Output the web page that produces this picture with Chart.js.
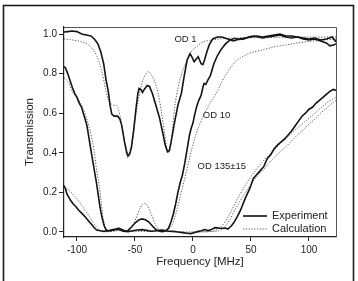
<!DOCTYPE html>
<html><head><meta charset="utf-8">
<script src="https://cdn.jsdelivr.net/npm/chart.js@4/dist/chart.umd.min.js"></script>
<style>html,body{margin:0;padding:0;background:#fff;}canvas{display:block;}</style>
</head><body>
<canvas id="c" width="358" height="281"></canvas>
<script>
// ---- data (frequency in MHz, transmission) ----
const xTicks = [-100, -50, 0, 50, 100];
const yTicks = [0, 0.2, 0.4, 0.6, 0.8, 1.0];

const od1ExpF = [-111.2,-108,-104,-100,-96,-92,-88,-85,-82,-79.5,-77,-75,-73,-71.5,-70,-68,-65,-63,-61.5,-59,-57,-56,-54.5,-53,-51,-49,-47.5,-46.5,-45,-43.5,-42,-39.5,-37.5,-35,-32,-29,-26,-24,-22,-20.5,-19,-16,-13,-10,-7.5,-5,-2.5,-1,1,3,4.5,7,8.5,10,12,14,17,21,25,30,35,40,45,50,55,60,65,70,75,80,85,90,95,100,105,110,115,120,123.3];
const od1ExpT = [1.01,1.012,1.015,1.012,1.0,0.995,0.99,0.975,0.95,0.91,0.85,0.77,0.71,0.64,0.595,0.585,0.585,0.57,0.54,0.455,0.40,0.385,0.395,0.43,0.52,0.63,0.70,0.725,0.72,0.705,0.72,0.74,0.735,0.70,0.64,0.58,0.50,0.44,0.405,0.41,0.45,0.55,0.64,0.70,0.79,0.87,0.90,0.885,0.86,0.875,0.885,0.85,0.845,0.87,0.91,0.945,0.975,0.985,0.985,0.975,0.965,0.975,0.98,0.985,0.99,0.985,0.99,0.995,1.0,0.99,0.99,0.985,0.98,0.975,0.98,0.97,0.975,0.985,0.96];

const od1CalcF = [-111.2,-104,-96,-90,-86,-83,-81,-79,-77,-75,-73,-70,-67.5,-66,-64,-62,-60,-58,-56.5,-55,-53,-51,-49,-47,-44,-41,-38.5,-36,-33,-30,-27,-25,-23,-21.5,-20,-18,-16,-12,-8.5,-5,-1.7,3,7,12,18,30,60,90,123.3];
const od1CalcT = [0.975,0.97,0.96,0.945,0.92,0.89,0.86,0.82,0.77,0.71,0.67,0.645,0.64,0.64,0.615,0.56,0.49,0.41,0.375,0.385,0.44,0.52,0.60,0.67,0.75,0.795,0.81,0.795,0.76,0.70,0.60,0.52,0.44,0.40,0.41,0.50,0.62,0.75,0.82,0.87,0.91,0.935,0.955,0.965,0.972,0.978,0.982,0.984,0.985];

const od10ExpF = [-111.2,-110,-108,-106,-104,-102,-100,-98,-96,-93.5,-91.5,-89,-87,-85,-83,-81.5,-80,-78.5,-76.5,-75,-73,-70,-67,-64,-61,-58,-56,-53,-50,-47,-44,-41,-38,-35,-32,-29,-26,-23,-21,-19,-17,-15,-13,-11,-9,-7,-5,-3,-1.5,0,1,3,5,7,8.5,9.5,11,13,15,18,21,24,28,32,36,40,44,48,52,56,60,65,70,75,80,85,90,95,100,105,110,115,118,121,123.3];
const od10ExpT = [0.835,0.83,0.80,0.765,0.73,0.70,0.68,0.65,0.63,0.58,0.54,0.45,0.38,0.31,0.24,0.18,0.12,0.075,0.03,0.012,0.005,0.008,0.012,0.02,0.012,0.004,0.008,0.025,0.045,0.06,0.066,0.062,0.05,0.03,0.012,0.004,0.002,0.008,0.02,0.05,0.09,0.14,0.20,0.25,0.29,0.35,0.42,0.49,0.525,0.55,0.58,0.63,0.665,0.69,0.73,0.75,0.745,0.77,0.79,0.85,0.89,0.92,0.95,0.97,0.978,0.972,0.975,0.985,0.99,0.985,0.98,0.985,0.99,0.995,0.985,0.98,0.985,0.975,0.97,0.975,0.965,0.955,0.94,0.945,0.95];

const od10CalcF = [-111.2,-108,-104,-100,-97.5,-94,-90,-87.5,-85.5,-83,-81,-79.5,-78,-76,-74,-71,-66,-62,-58,-55,-52,-49,-46,-43,-41,-39,-36,-33,-30,-27,-23,-20,-17,-14,-11,-8,-5,-1,3,7,11,15,20,25,30,35,41,50,60,70,80,90,100,110,123.3];
const od10CalcT = [0.78,0.76,0.71,0.675,0.655,0.61,0.54,0.48,0.42,0.31,0.24,0.17,0.09,0.03,0.008,0.002,0.006,0.012,0.006,0.01,0.03,0.07,0.115,0.142,0.145,0.13,0.09,0.045,0.015,0.003,0.005,0.02,0.05,0.11,0.18,0.25,0.32,0.42,0.50,0.56,0.61,0.655,0.70,0.76,0.81,0.85,0.88,0.905,0.92,0.935,0.945,0.955,0.962,0.968,0.975];

const od135ExpF = [-111.2,-110,-108.5,-107,-105,-103,-100.5,-98.5,-96,-93,-90,-87,-85,-83,-80,-77,-73,-69,-66,-63,-60,-56,-52,-48,-44,-40,-36,-32,-28,-25,-21,-17,-13,-9,-5,-2,1,4,7,10,13,16,19,22,25,28,30,33,35,38,41,45,49,52,55,58,61,64,67,70,73,76,79,82,85,88,91,94,97,100,103,106,109,112,115,118,121,123.3];
const od135ExpT = [0.235,0.22,0.19,0.175,0.155,0.14,0.125,0.11,0.095,0.077,0.055,0.035,0.02,0.01,0.006,0.003,0.006,0.012,0.015,0.01,0.004,0.002,0.006,0.01,0.012,0.008,0.004,0.006,0.01,0.008,0.004,0.003,0.0,-0.003,-0.006,-0.008,-0.004,0.002,0.006,0.012,0.008,0.012,0.022,0.02,0.018,0.02,0.015,0.03,0.045,0.075,0.11,0.17,0.22,0.27,0.29,0.31,0.33,0.37,0.39,0.42,0.44,0.455,0.47,0.49,0.51,0.535,0.56,0.585,0.60,0.62,0.63,0.65,0.665,0.68,0.695,0.71,0.72,0.715];

const od135CalcAF = [-111.2,-108,-105,-102,-99,-96,-93,-90,-87,-84,-81,-78,-74,-68,-64,-60,-50,-40,-30,-20,-10,0,10,15,20,24,28,32,36,40,45,50,55,60,65,70,75,80,85,90,95,100,105,110,115,120,123.3];
const od135CalcAT = [0.225,0.215,0.20,0.18,0.16,0.135,0.11,0.085,0.055,0.03,0.012,0.004,0.001,0.008,0.01,0.004,0.002,0.003,0.002,0.002,0.001,0.0,0.002,0.003,0.01,0.025,0.055,0.095,0.14,0.185,0.235,0.28,0.32,0.355,0.385,0.415,0.445,0.47,0.50,0.525,0.55,0.575,0.60,0.625,0.65,0.67,0.68];

const od135CalcBF = [0,10,17,22,27,31,35,39,44,50,55,60,65,70,75,80,85,90,95,100,105,110,115,120,123.3];
const od135CalcBT = [0.0,0.001,0.002,0.005,0.025,0.055,0.10,0.14,0.19,0.24,0.28,0.31,0.345,0.375,0.405,0.43,0.46,0.49,0.515,0.545,0.57,0.60,0.625,0.65,0.665];

const seriesNames = ['OD 1 experiment','OD 1 calculation','OD 10 experiment','OD 10 calculation','OD 135 experiment','OD 135-15 calculation','OD 135+15 calculation'];
const curveLabels = ['OD 1', 'OD 10', 'OD 135\u00B115'];
const legendLabels = ['Experiment', 'Calculation'];

// ---- build ----
const pts = (f, t) => f.map((v, i) => ({x: v, y: t[i]}));
const EXP_COLOR = '#141414', CALC_COLOR = '#555';
const CALC_DASH = [1.2, 1.6];
const expStyle = {borderColor: EXP_COLOR, borderWidth: 1.6, pointRadius: 0, tension: 0, fill: false, showLine: true};
const calcStyle = {borderColor: CALC_COLOR, borderWidth: 1, borderDash: CALC_DASH, pointRadius: 0, cubicInterpolationMode: 'monotone', fill: false, showLine: true};

const datasets = [
  Object.assign({label: seriesNames[0], data: pts(od1ExpF, od1ExpT)}, expStyle),
  Object.assign({label: seriesNames[1], data: pts(od1CalcF, od1CalcT)}, calcStyle),
  Object.assign({label: seriesNames[2], data: pts(od10ExpF, od10ExpT)}, expStyle),
  Object.assign({label: seriesNames[3], data: pts(od10CalcF, od10CalcT)}, calcStyle),
  Object.assign({label: seriesNames[4], data: pts(od135ExpF, od135ExpT)}, expStyle),
  Object.assign({label: seriesNames[5], data: pts(od135CalcAF, od135CalcAT)}, calcStyle),
  Object.assign({label: seriesNames[6], data: pts(od135CalcBF, od135CalcBT)}, calcStyle),
];

const FONT = "'Liberation Sans', Arial, Helvetica, sans-serif";
const INK = '#222';

const labelPos = [{f: -16, t: 0.975}, {f: 8.5, t: 0.59}, {f: 4, t: 0.33}];

const deco = {
  id: 'deco',
  afterDraw(chart) {
    const {ctx, chartArea: a, scales} = chart;
    ctx.save();
    // plot box (top + right)
    ctx.strokeStyle = '#555'; ctx.lineWidth = 1;
    ctx.beginPath();
    ctx.moveTo(a.left, a.top + 0.5); ctx.lineTo(a.right + 0.5, a.top + 0.5); ctx.lineTo(a.right + 0.5, a.bottom);
    ctx.stroke();
    // outer frame
    ctx.strokeStyle = '#1c1c1c'; ctx.lineWidth = 1.6;
    ctx.strokeRect(3.5, 5.5, 350, 300);
    // curve labels
    ctx.fillStyle = INK; ctx.font = '9.5px ' + FONT; ctx.textBaseline = 'middle'; ctx.textAlign = 'left';
    curveLabels.forEach((s, i) => {
      ctx.fillText(s, scales.x.getPixelForValue(labelPos[i].f), scales.y.getPixelForValue(labelPos[i].t));
    });
    // legend
    ctx.font = '11px ' + FONT;
    const lx0 = a.right - 93, lx1 = a.right - 69, tx = a.right - 64;
    const rows = [a.bottom - 21, a.bottom - 8];
    legendLabels.forEach((s, i) => {
      ctx.beginPath();
      if (i === 0) { ctx.strokeStyle = EXP_COLOR; ctx.lineWidth = 1.6; ctx.setLineDash([]); }
      else { ctx.strokeStyle = CALC_COLOR; ctx.lineWidth = 1; ctx.setLineDash(CALC_DASH); }
      ctx.moveTo(lx0, rows[i]); ctx.lineTo(lx1, rows[i]); ctx.stroke();
      ctx.setLineDash([]);
      ctx.fillText(s, tx, rows[i]);
    });
    ctx.restore();
  }
};

new Chart(document.getElementById('c'), {
  type: 'scatter',
  data: {datasets},
  options: {
    responsive: false, animation: false, devicePixelRatio: 1,
    layout: {padding: {left: 0, top: 27, right: 22, bottom: 0}},
    plugins: {legend: {display: false}, tooltip: {enabled: false}},
    scales: {
      x: {
        type: 'linear', min: -111.2, max: 123.3,
        afterBuildTicks: s => { s.ticks = xTicks.map(v => ({value: v})); },
        afterFit: s => { s.height = 44; },
        grid: {drawOnChartArea: false, drawTicks: true, tickLength: 4, color: INK, lineWidth: 1},
        border: {display: true, color: INK, width: 1.2},
        ticks: {color: INK, font: {family: FONT, size: 10}, padding: 3, maxRotation: 0, autoSkip: false, callback: v => String(v)},
        title: {display: true, text: 'Frequency [MHz]', color: INK, font: {family: FONT, size: 11.5}, padding: {top: 0, bottom: 12}}
      },
      y: {
        type: 'linear', min: -0.0253, max: 1.0354,
        afterBuildTicks: s => { s.ticks = yTicks.map(v => ({value: v})); },
        afterFit: s => { s.width = 64; },
        grid: {drawOnChartArea: false, drawTicks: true, tickLength: 5, color: INK, lineWidth: 1},
        border: {display: true, color: INK, width: 1.2},
        ticks: {color: INK, font: {family: FONT, size: 10}, padding: 2, autoSkip: false, callback: v => Number(v).toFixed(1)},
        title: {display: true, text: 'Transmission', color: INK, font: {family: FONT, size: 11.5}, padding: {top: 23, bottom: 0}}
      }
    }
  },
  plugins: [deco]
});
</script>
</body></html>
